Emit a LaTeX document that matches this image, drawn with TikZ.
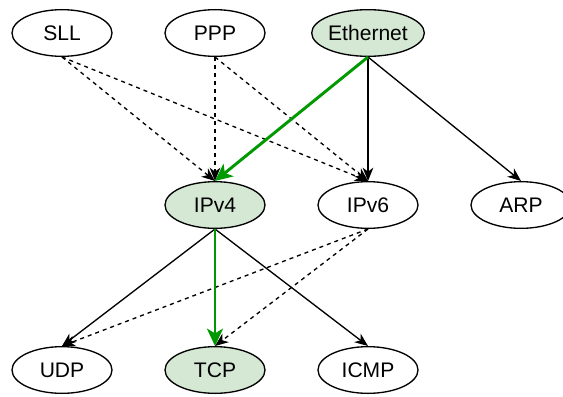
\documentclass[tikz,border=0pt]{standalone}
\usepackage{fontspec}
\setmainfont{Liberation Sans}
\usetikzlibrary{shapes.geometric,arrows.meta}
\definecolor{nodegreen}{HTML}{D5E8D4}
\definecolor{edgegreen}{HTML}{009900}
\tikzset{
  proto/.style={ellipse, draw=black, line width=1pt, minimum width=75pt, minimum height=35pt, inner sep=0pt, font=\fontsize{15.8}{18}\selectfont},
  hl/.style={proto, fill=nodegreen},
  solidedge/.style={draw=black, line width=1pt, -{Stealth[length=10pt,width=8pt,inset=3pt]}},
  dashedge/.style={solidedge, dash pattern=on 3pt off 3pt},
  greenedge/.style={draw=edgegreen, line width=2.2pt, -{Stealth[length=13pt,width=12pt,inset=3.5pt]}}
}
\begin{document}
\begin{tikzpicture}[x=0.75pt,y=-0.75pt]
\useasboundingbox (0,0) rectangle (563,396);
\node[proto] (sll) at (62,33) {SLL};
\node[proto] (ppp) at (215,33) {PPP};
\node[hl] (eth) at (368,33) {Ethernet};
\node[hl] (ipv4) at (215,205) {IPv4};
\node[proto] (ipv6) at (368,205) {IPv6};
\node[proto] (arp) at (521,205) {ARP};
\node[proto] (udp) at (62,370) {UDP};
\node[hl] (tcp) at (215,370) {TCP};
\node[proto] (icmp) at (368,370) {ICMP};

\draw[dashedge] (sll.south) -- (ipv4.north);
\draw[dashedge] (sll.south) -- (ipv6.north);
\draw[dashedge] (ppp.south) -- (ipv4.north);
\draw[dashedge] (ppp.south) -- (ipv6.north);
\draw[solidedge] (eth.south) -- (ipv6.north);
\draw[solidedge] (eth.south) -- (arp.north);
\draw[greenedge] (eth.south) -- (ipv4.north);

\draw[solidedge] (ipv4.south) -- (udp.north);
\draw[solidedge] (ipv4.south) -- (icmp.north);
\draw[dashedge] (ipv6.south) -- (udp.north);
\draw[dashedge] (ipv6.south) -- (tcp.north);
\draw[greenedge] (ipv4.south) -- (tcp.north);
\end{tikzpicture}
\end{document}
